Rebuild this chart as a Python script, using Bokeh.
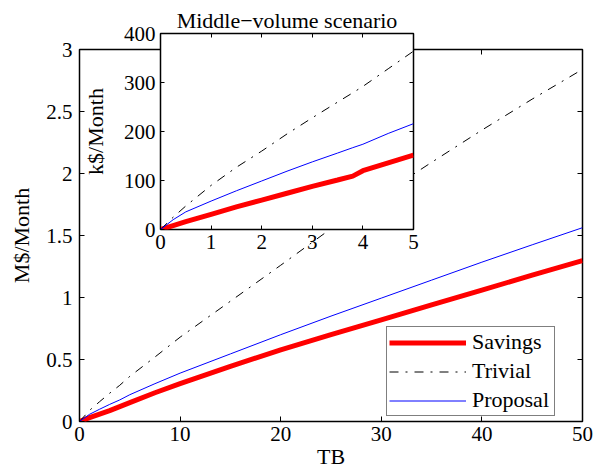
from bokeh.plotting import figure
from bokeh.models import Range1d, LinearAxis, FixedTicker, Legend, LegendItem
from bokeh.embed import file_html
from bokeh.resources import INLINE

# ---------------- data ----------------
# main plot: TB vs M$/Month
tb_main = [0, 1, 2, 3, 4, 5, 7.5, 10, 15, 20, 25, 30, 35, 40, 45, 50]
savings_main = [0, 0.031, 0.060, 0.088, 0.120, 0.152, 0.232, 0.305, 0.445, 0.578, 0.70, 0.82, 0.94, 1.06, 1.18, 1.298]
trivial_main = [0, 0.09, 0.16, 0.228, 0.292, 0.364, 0.52, 0.68, 0.97, 1.26, 1.555, 1.825, 2.09, 2.35, 2.60, 2.84]
proposal_main = [0, 0.058, 0.099, 0.138, 0.174, 0.216, 0.305, 0.39, 0.545, 0.70, 0.85, 0.995, 1.14, 1.285, 1.425, 1.563]

# inset: Middle-volume scenario, TB vs k$/Month
tb_inset = [0, 0.25, 0.5, 1, 1.5, 2, 2.5, 3, 3.5, 3.8, 4, 4.5, 5]
savings_inset = [0, 8, 16, 31, 46, 60, 74, 88, 101, 109, 120, 136, 152]
trivial_inset = [0, 25, 48, 90, 127, 160, 195, 228, 260, 279, 292, 328, 364]
proposal_inset = [0, 20, 36, 58, 79, 99, 119, 138, 156, 167, 174, 196, 216]

main_x_ticks = [0, 10, 20, 30, 40, 50]
main_x_labels = ["0", "10", "20", "30", "40", "50"]
main_y_ticks = [0, 0.5, 1, 1.5, 2, 2.5, 3]
main_y_labels = ["0", "0.5", "1", "1.5", "2", "2.5", "3"]
inset_x_ticks = [0, 1, 2, 3, 4, 5]
inset_x_labels = ["0", "1", "2", "3", "4", "5"]
inset_y_ticks = [0, 100, 200, 300, 400]
inset_y_labels = ["0", "100", "200", "300", "400"]

series_names = ["Savings", "Trivial", "Proposal"]

FONT = "Liberation Serif"
TICK_FS = "21px"
LABEL_FS = "22px"
W, H = 595, 471


def style_axis(ax, ticks, labels, show, tick_in):
    ax.ticker = FixedTicker(ticks=ticks)
    ax.minor_tick_line_color = None
    ax.major_tick_in = tick_in
    ax.major_tick_out = 0
    ax.major_tick_line_color = "black"
    ax.major_tick_line_width = 1
    ax.axis_line_color = None
    ax.major_label_text_font = FONT
    ax.axis_label_text_font = FONT
    ax.axis_label_text_font_style = "normal"
    ax.axis_label_text_font_size = LABEL_FS
    ax.axis_label_text_color = "black"
    if show:
        ax.major_label_overrides = {t: l for t, l in zip(ticks, labels)}
        ax.major_label_text_font_size = TICK_FS
        ax.major_label_text_color = "black"
    else:
        # tick marks only (MATLAB box), no labels
        ax.major_label_overrides = {t: "" for t in ticks}
        ax.major_label_text_font_size = "1px"
        ax.major_label_text_color = None
        ax.major_label_standoff = 0


# ---------------- main figure ----------------
p = figure(width=W, height=H, x_range=Range1d(0, 50), y_range=Range1d(0, 3),
           output_backend="svg", toolbar_location=None,
           min_border_left=79, min_border_right=13, min_border_top=49, min_border_bottom=45)
p.xgrid.visible = False
p.ygrid.visible = False
p.outline_line_color = "black"
p.outline_line_width = 1.5
p.background_fill_color = "white"
p.border_fill_color = "white"

style_axis(p.xaxis[0], main_x_ticks, main_x_labels, True, 5)
style_axis(p.yaxis[0], main_y_ticks, main_y_labels, True, 5)
p.xaxis[0].axis_label = "TB"
p.yaxis[0].axis_label = "M$/Month"
p.xaxis[0].major_label_standoff = 5
p.xaxis[0].axis_label_standoff = 0
p.yaxis[0].major_label_standoff = 7
p.yaxis[0].axis_label_standoff = 9

top_ax = LinearAxis()
style_axis(top_ax, main_x_ticks, main_x_labels, False, 5)
p.add_layout(top_ax, "above")
right_ax = LinearAxis()
style_axis(right_ax, main_y_ticks, main_y_labels, False, 5)
p.add_layout(right_ax, "right")

r_sav = p.line(tb_main, savings_main, line_color="#ff0000", line_width=5)
r_tri = p.line(tb_main, trivial_main, line_color="black", line_width=1, line_dash="9 7 2 7")
r_pro = p.line(tb_main, proposal_main, line_color="#0000ff", line_width=1)

legend = Legend(items=[LegendItem(label=series_names[0], renderers=[r_sav]),
                       LegendItem(label=series_names[1], renderers=[r_tri]),
                       LegendItem(label=series_names[2], renderers=[r_pro])],
                location=(307, 5))
legend.label_text_font = FONT
legend.label_text_font_size = "22px"
legend.label_text_color = "black"
legend.border_line_color = "black"
legend.border_line_width = 1.5
legend.background_fill_color = "white"
legend.background_fill_alpha = 1
legend.padding = 2
legend.margin = 0
legend.spacing = 3
legend.label_height = 21
legend.glyph_height = 21
legend.glyph_width = 77
legend.label_standoff = 6
legend.label_width = 80
p.add_layout(legend)

# ---------------- inset figure (same canvas size, transparent border, overlaid) ----------------
ins = figure(width=W, height=H, x_range=Range1d(0, 5), y_range=Range1d(0, 400),
             output_backend="svg", toolbar_location=None,
             min_border_left=160, min_border_right=W - 413, min_border_top=33, min_border_bottom=H - 229)
ins.styles = {"position": "absolute", "left": "0px", "top": "0px"}
ins.xgrid.visible = False
ins.ygrid.visible = False
ins.outline_line_color = "black"
ins.outline_line_width = 1.5
ins.background_fill_color = "white"
ins.border_fill_color = None
ins.title.text = "Middle\u2212volume scenario"
ins.title.align = "center"
ins.title.text_font = FONT
ins.title.text_font_size = "22px"
ins.title.text_font_style = "normal"
ins.title.text_color = "black"
ins.title.standoff = 2

style_axis(ins.xaxis[0], inset_x_ticks, inset_x_labels, True, 4)
style_axis(ins.yaxis[0], inset_y_ticks, inset_y_labels, True, 4)
ins.yaxis[0].axis_label = "k$/Month"
ins.xaxis[0].major_label_standoff = 5
ins.yaxis[0].major_label_standoff = 5
ins.yaxis[0].axis_label_standoff = 13

ins_top = LinearAxis()
style_axis(ins_top, inset_x_ticks, inset_x_labels, False, 4)
ins.add_layout(ins_top, "above")
ins_right = LinearAxis()
style_axis(ins_right, inset_y_ticks, inset_y_labels, False, 4)
ins.add_layout(ins_right, "right")

ins.line(tb_inset, savings_inset, line_color="#ff0000", line_width=5)
ins.line(tb_inset, trivial_inset, line_color="black", line_width=1, line_dash="9 7 2 7")
ins.line(tb_inset, proposal_inset, line_color="#0000ff", line_width=1)

open("out.html", "w").write(file_html([p, ins], INLINE))
